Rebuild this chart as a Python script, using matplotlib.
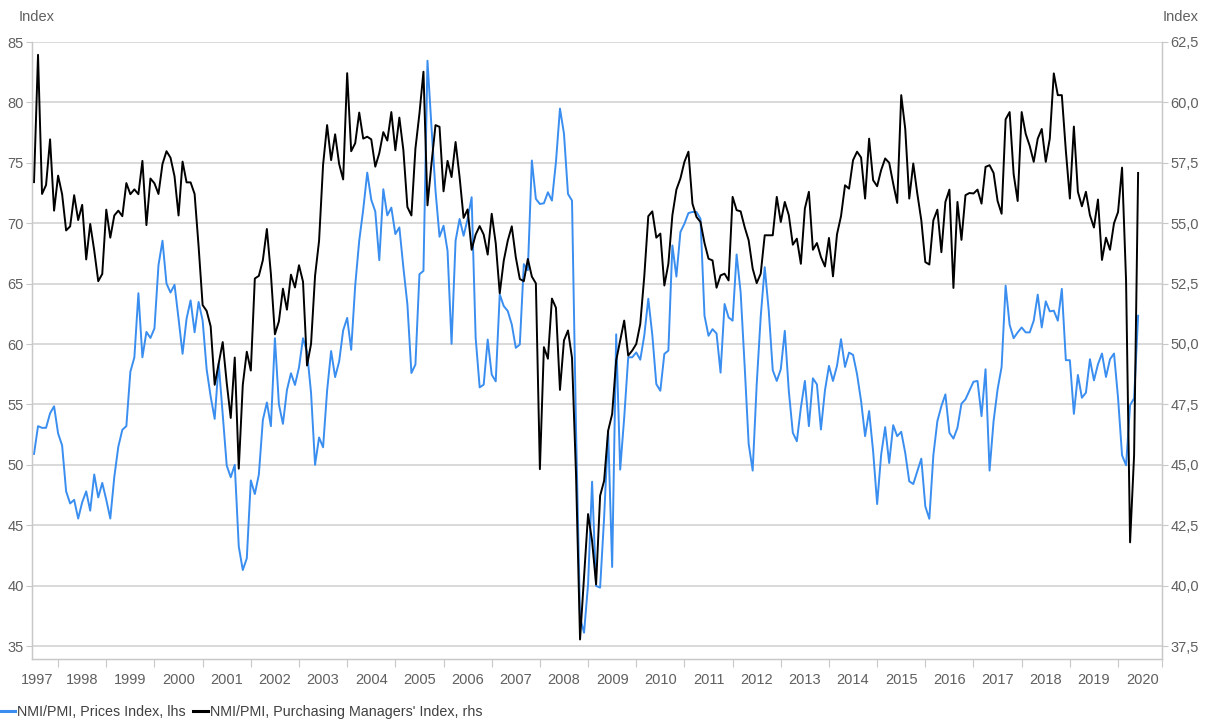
import matplotlib.pyplot as plt
import numpy as np
from matplotlib.lines import Line2D

plt.rcParams['font.family'] = ['Liberation Sans', 'DejaVu Sans']

# Monthly series, first observation July 1997, last June 2020
prices_lhs = [
    50.9, 53.2, 53.06, 53.06, 54.26, 54.84, 52.6, 51.6, 47.8, 46.8,
    47.1, 45.55, 46.9, 47.8, 46.2, 49.2, 47.3, 48.5, 47.1, 45.55,
    49.0, 51.5, 52.9, 53.2, 57.7, 58.9, 64.2, 58.9, 61.0, 60.5,
    61.29, 66.52, 68.55, 65.0, 64.26, 64.9, 62.1, 59.19, 62.1, 63.61,
    60.97, 63.48, 61.94, 57.9, 55.65, 53.8, 58.4, 54.2, 49.94, 48.97,
    50.0, 43.23, 41.29, 42.26, 48.71, 47.58, 49.19, 53.71, 55.16, 53.2,
    60.48, 55.0, 53.39, 56.19, 57.58, 56.61, 58.06, 60.48, 59.35, 55.97,
    50.0, 52.26, 51.45, 56.13, 59.42, 57.26, 58.55, 61.13, 62.16, 59.52,
    64.84, 68.55, 71.13, 74.19, 71.94, 70.97, 66.94, 72.81, 70.65, 71.29,
    69.1, 69.65, 66.33, 63.28, 57.6, 58.3, 65.78, 66.05, 83.45, 77.96,
    72.7, 68.88, 69.79, 67.71, 60.01, 68.55, 70.35, 68.96, 70.35, 72.15,
    60.51, 56.41, 56.63, 60.37, 57.47, 56.91, 64.11, 63.14, 62.73, 61.62,
    59.68, 59.96, 66.61, 66.11, 75.19, 72.01, 71.59, 71.65, 72.56, 71.87,
    75.06, 79.49, 77.41, 72.42, 71.87, 53.0, 37.34, 36.1, 40.1, 48.6,
    39.97, 39.83, 45.64, 52.8, 41.54, 60.8, 49.6, 53.9, 58.9, 58.9,
    59.3, 58.7, 60.7, 63.75, 60.75, 56.68, 56.13, 59.18, 59.45, 68.16,
    65.58, 69.27, 69.96, 70.84, 70.93, 70.93, 70.37, 62.34, 60.68, 61.23,
    60.87, 57.63, 63.31, 62.2, 61.93, 67.41, 64.28, 58.19, 51.73, 49.52,
    56.66, 62.26, 66.36, 62.76, 57.83, 56.94, 57.91, 61.09, 56.11, 52.65,
    51.95, 54.72, 56.94, 53.2, 57.16, 56.66, 52.92, 56.16, 58.19, 56.94,
    58.19, 60.4, 58.1, 59.29, 59.1, 57.49, 55.28, 52.37, 54.45, 51.12,
    46.75, 50.84, 53.12, 50.15, 53.28, 52.37, 52.73, 50.98, 48.63, 48.41,
    49.46, 50.51, 46.55, 45.53, 50.79, 53.61, 54.86, 55.83, 52.65, 52.17,
    53.06, 55.06, 55.42, 56.16, 56.88, 56.94, 54.03, 57.91, 49.52, 53.61,
    56.25, 58.1, 64.83, 61.59, 60.48, 60.96, 61.37, 60.96, 60.96, 61.93,
    64.09, 61.37, 63.53, 62.7, 62.76, 61.93, 64.56, 58.66, 58.66, 54.22,
    57.44, 55.55, 55.97, 58.74, 56.99, 58.32, 59.21, 57.27, 58.74, 59.21,
    55.55, 50.79, 49.96, 54.94, 55.5, 62.34,
]

pmi_rhs = [
    56.7, 61.97, 56.21, 56.58, 58.47, 55.52, 56.97, 56.2, 54.7, 54.87,
    56.16, 55.13, 55.76, 53.5, 54.97, 53.87, 52.6, 52.9, 55.56, 54.4,
    55.32, 55.52, 55.29, 56.66, 56.2, 56.4, 56.2, 57.58, 54.92, 56.85,
    56.65, 56.21, 57.45, 57.98, 57.71, 56.94, 55.32, 57.55, 56.69, 56.69,
    56.21, 54.03, 51.61, 51.37, 50.73, 48.31, 49.19, 50.08, 48.39, 46.94,
    49.44, 44.84, 48.31, 49.68, 48.9, 52.71, 52.82, 53.47, 54.76, 52.9,
    50.4, 50.94, 52.29, 51.42, 52.87, 52.34, 53.26, 52.58, 49.11, 50.0,
    52.82, 54.27, 57.42, 59.06, 57.61, 58.68, 57.45, 56.81, 61.21, 57.98,
    58.31, 59.58, 58.5, 58.58, 58.47, 57.34, 57.9, 58.77, 58.42, 59.6,
    58.02, 59.37, 58.02, 55.67, 55.32, 58.09, 59.54, 61.27, 55.74, 57.47,
    59.06, 58.99, 56.32, 57.58, 56.91, 58.36, 56.91, 55.22, 55.57, 53.9,
    54.53, 54.88, 54.53, 53.7, 55.39, 54.17, 52.1, 53.45, 54.28, 54.87,
    53.59, 52.69, 52.6, 53.52, 52.79, 52.51, 44.82, 49.87, 49.39, 51.88,
    51.5, 48.1, 50.15, 50.56, 49.43, 44.6, 37.77, 40.33, 42.96, 41.85,
    40.05, 43.72, 44.34, 46.41, 47.1, 49.32, 50.14, 50.97, 49.52, 49.73,
    50.0, 50.83, 52.8, 55.29, 55.49, 54.4, 54.57, 52.42, 53.32, 55.33,
    56.39, 56.85, 57.54, 57.96, 55.81, 55.26, 55.05, 54.18, 53.53, 53.46,
    52.33, 52.84, 52.91, 52.63, 56.09, 55.54, 55.49, 54.84, 54.29, 53.12,
    52.52, 52.91, 54.5, 54.5, 54.5, 56.09, 55.05, 55.88, 55.33, 54.11,
    54.36, 53.32, 55.61, 56.3, 53.9, 54.18, 53.6, 53.21, 54.39, 52.8,
    54.54, 55.29, 56.57, 56.43, 57.61, 57.96, 57.72, 56.02, 58.5, 56.78,
    56.53, 57.2, 57.68, 57.5, 56.64, 55.84, 60.3, 58.9, 56.02, 57.47,
    56.23, 55.12, 53.39, 53.29, 55.12, 55.56, 53.8, 55.88, 56.39, 52.32,
    55.88, 54.31, 56.16, 56.25, 56.23, 56.39, 55.81, 57.33, 57.4, 57.08,
    55.92, 55.39, 59.3, 59.6, 57.03, 55.92, 59.6, 58.7, 58.2, 57.54,
    58.5, 58.9, 57.54, 58.5, 61.2, 60.3, 60.3, 58.0, 56.02, 59.0,
    56.3, 55.7, 56.3, 55.33, 54.82, 55.98, 53.48, 54.4, 53.9, 55.0,
    55.46, 57.3, 52.62, 41.79, 45.4, 57.08,
]

year_labels = [str(y) for y in range(1997, 2021)]
left_ticks = [35, 40, 45, 50, 55, 60, 65, 70, 75, 80, 85]
right_ticks = [37.5, 40.0, 42.5, 45.0, 47.5, 50.0, 52.5, 55.0, 57.5, 60.0, 62.5]

BLUE = '#3a8ef0'
GREY_TXT = '#606060'
GRID = '#d0d0d0'
AXLINE = '#c8c8c8'

months = np.arange(len(prices_lhs))  # months since Jul 1997
x_max = 280.95

fig = plt.figure(figsize=(12.05, 7.22), dpi=100, facecolor='white')
ax = fig.add_axes([32 / 1205, 1 - 659 / 722, 1130 / 1205, 617 / 722])
ax2 = ax.twinx()

ax.plot(months, prices_lhs, color=BLUE, lw=1.4, solid_joinstyle='round')
ax2.plot(months, pmi_rhs, color='black', lw=1.4, solid_joinstyle='round')

ax.set_xlim(-0.5, x_max)
ax.set_ylim(85 - 617 / 12.08, 85)
ax2.set_ylim(62.5 - 617 / 24.16, 62.5)

# y axes
ax.set_yticks(left_ticks)
ax.set_yticklabels([str(t) for t in left_ticks])
ax2.set_yticks(right_ticks)
ax2.set_yticklabels([f"{t:.1f}".replace('.', ',') for t in right_ticks])
ax.grid(axis='y', color=GRID, lw=1.1)
ax.set_axisbelow(True)
for a in (ax, ax2):
    a.tick_params(axis='y', length=4, width=0.8, color=AXLINE, labelcolor=GREY_TXT,
                  labelsize=10.5, pad=2)
    for s in a.spines.values():
        s.set_color(AXLINE)
        s.set_linewidth(0.9)
    a.spines['top'].set_visible(False)

# x axis: tick marks at year boundaries, labels mid-year
jan_ticks = list(range(6, 271, 12)) + [x_max]
ax.set_xticks(jan_ticks)
ax.set_xticklabels([''] * len(jan_ticks))
label_pos = [0.9] + list(range(12, 277, 12))
ax.set_xticks(label_pos, minor=True)
ax.set_xticklabels(year_labels, minor=True)
ax.tick_params(axis='x', which='major', length=6, width=0.8, color=AXLINE, direction='out')
ax.tick_params(axis='x', which='minor', length=0, pad=10, labelsize=10.5, labelcolor=GREY_TXT)
ax2.set_xlim(ax.get_xlim())

fig.text(37 / 1205, 1 - 17 / 722, 'Index', ha='center', va='center', color=GREY_TXT, fontsize=10.5)
fig.text(1181 / 1205, 1 - 17 / 722, 'Index', ha='center', va='center', color=GREY_TXT, fontsize=10.5)

handles = [Line2D([], [], color=BLUE, lw=2.2), Line2D([], [], color='black', lw=2.2)]
labels = ['NMI/PMI, Prices Index, lhs', "NMI/PMI, Purchasing Managers' Index, rhs"]
fig.legend(handles, labels, loc='center left', bbox_to_anchor=(0.0, 1 - 712 / 722), ncol=2,
           frameon=False, handlelength=1.05, handletextpad=0.12, columnspacing=0.55,
           borderpad=0, borderaxespad=0, fontsize=10.3, labelcolor='#404040')

fig.savefig('out.png', dpi=100, facecolor='white')
